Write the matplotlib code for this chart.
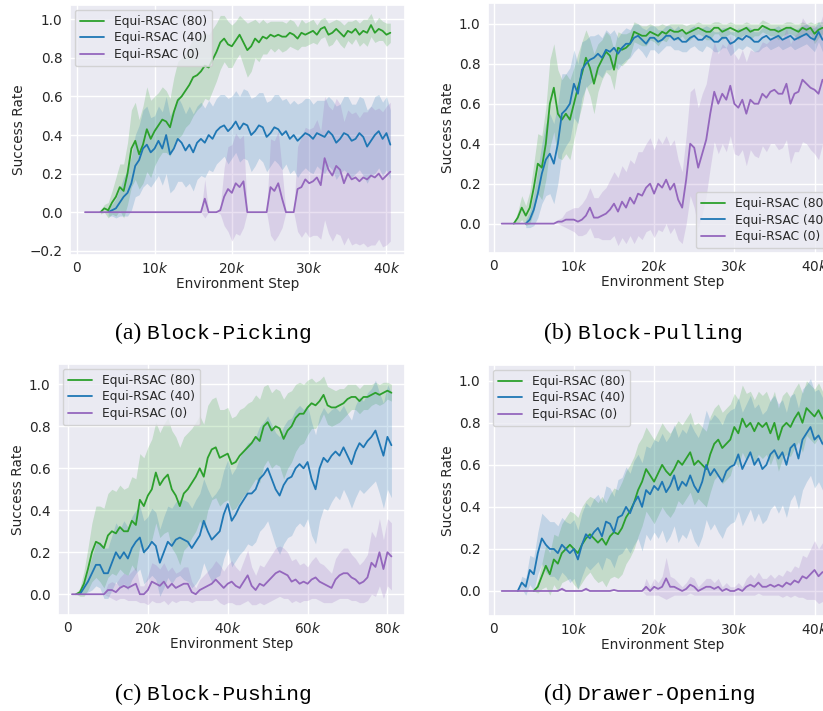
import numpy as np
import matplotlib
matplotlib.use("Agg")
import matplotlib.pyplot as plt
import seaborn as sns
from matplotlib.ticker import FuncFormatter, MultipleLocator

sns.set_theme(style="darkgrid")
plt.rcParams['font.family'] = ['DejaVu Sans']

LABELS = ["Equi-RSAC (80)", "Equi-RSAC (40)", "Equi-RSAC (0)"]
COLORS = ["#2ca02c", "#1f77b4", "#9467bd"]
CAPTIONS = [("(a)", "Block-Picking"), ("(b)", "Block-Pulling"),
            ("(c)", "Block-Pushing"), ("(d)", "Drawer-Opening")]
XLABEL = "Environment Step"
YLABEL = "Success Rate"

# ---------------- (a) Block-Picking : x in thousands, step 0.5k ----------------
a80_start = 3.0
a80_mean = [0.00, 0.02, 0.01, 0.05, 0.08, 0.13, 0.11, 0.20,
            0.33, 0.37, 0.30, 0.35, 0.43, 0.38, 0.42, 0.45,
            0.48, 0.47, 0.44, 0.52, 0.58, 0.60, 0.63, 0.66,
            0.70, 0.71, 0.73, 0.76, 0.75, 0.79, 0.83, 0.88,
            0.90, 0.87, 0.86, 0.89, 0.92, 0.88, 0.84, 0.86,
            0.90, 0.88, 0.91, 0.90, 0.92, 0.91, 0.92, 0.91,
            0.91, 0.93, 0.92, 0.90, 0.93, 0.92, 0.93, 0.94,
            0.92, 0.95, 0.96, 0.92, 0.93, 0.95, 0.93, 0.91,
            0.94, 0.93, 0.95, 0.92, 0.94, 0.93, 0.97, 0.93,
            0.95, 0.94, 0.92, 0.93]
a80_sd = [0.01, 0.02, 0.04, 0.06, 0.10, 0.12, 0.14, 0.16,
          0.20, 0.20, 0.18, 0.20, 0.22, 0.20, 0.18, 0.17,
          0.17, 0.16, 0.15, 0.18, 0.20, 0.20, 0.19, 0.20,
          0.20, 0.18, 0.18, 0.17, 0.17, 0.16, 0.15, 0.14,
          0.12, 0.12, 0.11, 0.10, 0.10, 0.12, 0.14, 0.13,
          0.10, 0.10, 0.09, 0.08, 0.07, 0.08, 0.07, 0.08,
          0.07, 0.07, 0.07, 0.06, 0.07, 0.06, 0.06, 0.06,
          0.05, 0.05, 0.05, 0.06, 0.06, 0.05, 0.06, 0.06,
          0.05, 0.06, 0.05, 0.06, 0.06, 0.07, 0.06, 0.05,
          0.06, 0.05, 0.06, 0.05]
a40_start = 4.0
a40_mean = [0.00, 0.01, 0.02, 0.05, 0.08, 0.10, 0.15, 0.24,
            0.27, 0.33, 0.35, 0.31, 0.33, 0.37, 0.33, 0.40,
            0.30, 0.33, 0.38, 0.36, 0.32, 0.35, 0.31, 0.36,
            0.38, 0.36, 0.40, 0.38, 0.42, 0.44, 0.45, 0.42,
            0.44, 0.47, 0.43, 0.46, 0.45, 0.40, 0.42, 0.45,
            0.44, 0.39, 0.41, 0.44, 0.43, 0.40, 0.42, 0.38,
            0.40, 0.37, 0.39, 0.41, 0.40, 0.38, 0.41, 0.40,
            0.39, 0.42, 0.40, 0.36, 0.38, 0.41, 0.40, 0.37,
            0.38, 0.41, 0.39, 0.34, 0.37, 0.40, 0.42, 0.38,
            0.41, 0.35]
a40_sd = [0.02, 0.03, 0.05, 0.07, 0.10, 0.12, 0.14, 0.16,
          0.18, 0.20, 0.20, 0.18, 0.17, 0.18, 0.19, 0.20,
          0.20, 0.21, 0.22, 0.20, 0.19, 0.20, 0.20, 0.19,
          0.19, 0.18, 0.18, 0.17, 0.17, 0.17, 0.16, 0.17,
          0.16, 0.16, 0.17, 0.18, 0.18, 0.19, 0.18, 0.17,
          0.18, 0.18, 0.17, 0.17, 0.18, 0.18, 0.17, 0.18,
          0.18, 0.19, 0.18, 0.18, 0.19, 0.18, 0.17, 0.18,
          0.19, 0.18, 0.18, 0.19, 0.18, 0.19, 0.20, 0.19,
          0.18, 0.19, 0.20, 0.19, 0.18, 0.20, 0.19, 0.19,
          0.19, 0.18]
a0_start = 1.0
a0_mean = [0.0] * 24 + [
           0.00, 0.00, 0.00, 0.00, 0.00, 0.00, 0.00, 0.07,
           0.00, 0.00, 0.00, 0.01, 0.08, 0.12, 0.10, 0.15,
           0.13, 0.16, 0.00, 0.00, 0.00, 0.00, 0.00, 0.00,
           0.13, 0.11, 0.15, 0.07, 0.00, 0.00, 0.00, 0.12,
           0.13, 0.17, 0.15, 0.16, 0.18, 0.14, 0.28, 0.22,
           0.19, 0.24, 0.22, 0.15, 0.20, 0.17, 0.18, 0.16,
           0.18, 0.17, 0.19, 0.18, 0.20, 0.17, 0.19, 0.21]
a0_sd = [0.0] * 24 + [
         0.00, 0.00, 0.00, 0.00, 0.00, 0.00, 0.00, 0.10,
         0.00, 0.00, 0.00, 0.02, 0.15, 0.22, 0.25, 0.26,
         0.25, 0.24, 0.00, 0.00, 0.00, 0.00, 0.00, 0.00,
         0.25, 0.26, 0.27, 0.15, 0.00, 0.00, 0.00, 0.22,
         0.26, 0.27, 0.28, 0.28, 0.30, 0.28, 0.32, 0.33,
         0.34, 0.35, 0.34, 0.32, 0.33, 0.34, 0.34, 0.33,
         0.34, 0.35, 0.36, 0.35, 0.34, 0.35, 0.36, 0.36]

# ---------------- (b) Block-Pulling : step 0.5k ----------------
b80_start = 2.5
b80_mean = [0.00,
            0.03, 0.08, 0.04, 0.08, 0.18, 0.30, 0.28, 0.40,
            0.60, 0.68, 0.55, 0.52, 0.55, 0.52, 0.60, 0.68,
            0.75, 0.83, 0.78, 0.70, 0.78, 0.82, 0.86, 0.84,
            0.77, 0.88, 0.87, 0.88, 0.90, 0.96, 0.95, 0.94,
            0.94, 0.96, 0.95, 0.94, 0.96, 0.95, 0.97, 0.96,
            0.96, 0.97, 0.95, 0.96, 0.97, 0.98, 0.97, 0.96,
            0.96, 0.98, 0.98, 0.96, 0.97, 0.98, 0.97, 0.96,
            0.97, 0.98, 0.96, 0.97, 0.97, 0.99, 0.98, 0.97,
            0.97, 0.96, 0.97, 0.98, 0.98, 0.97, 0.96, 0.98,
            0.97, 0.98, 0.95, 0.97, 0.98]
b80_sd = [0.00,
          0.03, 0.06, 0.05, 0.08, 0.12, 0.15, 0.16, 0.18,
          0.22, 0.22, 0.22, 0.20, 0.20, 0.20, 0.18, 0.17,
          0.16, 0.14, 0.14, 0.15, 0.12, 0.10, 0.10, 0.10,
          0.10, 0.08, 0.08, 0.07, 0.06, 0.05, 0.05, 0.05,
          0.05, 0.04, 0.04, 0.05, 0.04, 0.04, 0.03, 0.04,
          0.04, 0.03, 0.04, 0.04, 0.03, 0.03, 0.03, 0.04,
          0.04, 0.03, 0.03, 0.04, 0.03, 0.03, 0.03, 0.04,
          0.03, 0.03, 0.04, 0.03, 0.03, 0.03, 0.03, 0.03,
          0.03, 0.04, 0.03, 0.03, 0.03, 0.03, 0.04, 0.03,
          0.03, 0.03, 0.05, 0.04, 0.03]
b40_start = 4.0
b40_mean = [0.00, 0.02, 0.07, 0.15, 0.25, 0.32, 0.35, 0.30,
            0.40, 0.55, 0.57, 0.60, 0.70, 0.65, 0.77, 0.80,
            0.82, 0.83, 0.85, 0.83, 0.87, 0.86, 0.88, 0.85,
            0.88, 0.90, 0.90, 0.93, 0.94, 0.92, 0.90, 0.93,
            0.93, 0.91, 0.92, 0.94, 0.94, 0.92, 0.93, 0.91,
            0.91, 0.93, 0.94, 0.92, 0.92, 0.94, 0.93, 0.91,
            0.91, 0.93, 0.93, 0.90, 0.91, 0.93, 0.92, 0.94,
            0.93, 0.91, 0.91, 0.93, 0.94, 0.92, 0.93, 0.94,
            0.92, 0.93, 0.94, 0.92, 0.93, 0.94, 0.95, 0.93,
            0.92, 0.96, 0.92]
b40_sd = [0.02, 0.04, 0.08, 0.12, 0.15, 0.18, 0.20, 0.20,
          0.20, 0.20, 0.18, 0.18, 0.17, 0.15, 0.14, 0.12,
          0.12, 0.11, 0.10, 0.10, 0.10, 0.09, 0.09, 0.08,
          0.08, 0.08, 0.07, 0.07, 0.06, 0.06, 0.07, 0.06,
          0.06, 0.06, 0.05, 0.05, 0.05, 0.05, 0.06, 0.05,
          0.05, 0.05, 0.05, 0.05, 0.06, 0.05, 0.05, 0.05,
          0.05, 0.05, 0.05, 0.06, 0.05, 0.05, 0.05, 0.05,
          0.05, 0.05, 0.05, 0.05, 0.05, 0.05, 0.05, 0.05,
          0.05, 0.05, 0.05, 0.05, 0.05, 0.05, 0.05, 0.05,
          0.06, 0.05, 0.06]
b0_start = 1.0
b0_mean = [0.0] * 8 + [
           0.00, 0.00, 0.00, 0.00, 0.00, 0.00, 0.01, 0.01,
           0.02, 0.02, 0.02, 0.01, 0.02, 0.04, 0.08, 0.03,
           0.03, 0.04, 0.05, 0.07, 0.10, 0.06, 0.11, 0.08,
           0.13, 0.10, 0.15, 0.14, 0.18, 0.20, 0.15, 0.20,
           0.18, 0.22, 0.17, 0.20, 0.12, 0.08, 0.22, 0.40,
           0.38, 0.28, 0.35, 0.42, 0.55, 0.66, 0.60, 0.65,
           0.62, 0.69, 0.60, 0.58, 0.62, 0.55, 0.62, 0.60,
           0.60, 0.65, 0.63, 0.66, 0.67, 0.65, 0.65, 0.70,
           0.60, 0.65, 0.66, 0.72, 0.70, 0.68, 0.67, 0.65,
           0.72]
b0_sd = [0.0] * 8 + [
         0.00, 0.00, 0.00, 0.00, 0.00, 0.00, 0.01, 0.02,
         0.04, 0.05, 0.06, 0.07, 0.08, 0.09, 0.10, 0.10,
         0.10, 0.12, 0.13, 0.15, 0.16, 0.17, 0.18, 0.18,
         0.19, 0.20, 0.21, 0.22, 0.22, 0.23, 0.22, 0.23,
         0.22, 0.22, 0.22, 0.22, 0.20, 0.18, 0.22, 0.26,
         0.30, 0.30, 0.30, 0.28, 0.27, 0.25, 0.25, 0.25,
         0.26, 0.25, 0.25, 0.24, 0.25, 0.26, 0.25, 0.26,
         0.27, 0.26, 0.27, 0.26, 0.27, 0.28, 0.27, 0.28,
         0.30, 0.29, 0.30, 0.31, 0.30, 0.31, 0.32, 0.33,
         0.32]

# ---------------- (c) Block-Pushing : step 1k ----------------
c80_start = 2.0
c80_mean = [0.00, 0.01, 0.05, 0.12, 0.20, 0.25, 0.24, 0.22,
            0.28, 0.30, 0.29, 0.32, 0.30, 0.30, 0.35, 0.33,
            0.45, 0.42, 0.47, 0.50, 0.58, 0.52, 0.55, 0.57,
            0.50, 0.47, 0.42, 0.48, 0.50, 0.53, 0.56, 0.60,
            0.56, 0.65, 0.69, 0.70, 0.65, 0.66, 0.67, 0.62,
            0.63, 0.66, 0.68, 0.70, 0.72, 0.75, 0.73, 0.80,
            0.82, 0.78, 0.80, 0.79, 0.74, 0.78, 0.80, 0.84,
            0.86, 0.86, 0.89, 0.91, 0.90, 0.92, 0.95, 0.90,
            0.89, 0.89, 0.90, 0.91, 0.93, 0.94, 0.94, 0.92,
            0.94, 0.94, 0.95, 0.96, 0.95, 0.96, 0.97, 0.96]
c80_sd = [0.00, 0.02, 0.06, 0.10, 0.14, 0.17, 0.18, 0.19,
          0.20, 0.20, 0.20, 0.20, 0.20, 0.21, 0.21, 0.22,
          0.22, 0.23, 0.23, 0.24, 0.24, 0.25, 0.26, 0.27,
          0.28, 0.28, 0.28, 0.27, 0.27, 0.26, 0.26, 0.25,
          0.25, 0.25, 0.24, 0.24, 0.23, 0.22, 0.22, 0.22,
          0.22, 0.22, 0.21, 0.21, 0.20, 0.20, 0.20, 0.19,
          0.18, 0.18, 0.18, 0.18, 0.19, 0.18, 0.17, 0.16,
          0.15, 0.14, 0.13, 0.12, 0.11, 0.10, 0.09, 0.09,
          0.09, 0.08, 0.08, 0.07, 0.07, 0.06, 0.06, 0.06,
          0.06, 0.06, 0.05, 0.05, 0.05, 0.05, 0.04, 0.04]
c40_start = 3.0
c40_mean = [0.00, 0.03, 0.06, 0.10, 0.14, 0.14, 0.10, 0.10,
            0.15, 0.20, 0.17, 0.20, 0.17, 0.22, 0.25, 0.27,
            0.20, 0.22, 0.25, 0.23, 0.15, 0.20, 0.25, 0.23,
            0.26, 0.27, 0.26, 0.25, 0.22, 0.25, 0.28, 0.35,
            0.30, 0.26, 0.28, 0.30, 0.38, 0.43, 0.35, 0.38,
            0.42, 0.45, 0.48, 0.48, 0.50, 0.55, 0.57, 0.60,
            0.55, 0.50, 0.47, 0.52, 0.55, 0.56, 0.60, 0.62,
            0.60, 0.63, 0.55, 0.50, 0.60, 0.65, 0.63, 0.66,
            0.68, 0.66, 0.70, 0.66, 0.62, 0.68, 0.72, 0.70,
            0.73, 0.75, 0.78, 0.72, 0.66, 0.75, 0.71]
c40_sd = [0.00, 0.03, 0.05, 0.08, 0.10, 0.11, 0.12, 0.12,
          0.13, 0.14, 0.14, 0.15, 0.15, 0.15, 0.15, 0.15,
          0.15, 0.15, 0.16, 0.16, 0.16, 0.17, 0.17, 0.18,
          0.18, 0.18, 0.19, 0.19, 0.19, 0.20, 0.20, 0.20,
          0.20, 0.20, 0.20, 0.21, 0.21, 0.21, 0.22, 0.22,
          0.23, 0.24, 0.24, 0.25, 0.25, 0.25, 0.25, 0.25,
          0.26, 0.27, 0.28, 0.28, 0.28, 0.28, 0.28, 0.28,
          0.28, 0.27, 0.27, 0.26, 0.25, 0.24, 0.23, 0.22,
          0.21, 0.21, 0.20, 0.20, 0.21, 0.22, 0.22, 0.22,
          0.23, 0.23, 0.24, 0.24, 0.25, 0.25, 0.25]
c0_start = 1.0
c0_mean = [0.0] * 8 + [
           0.00, 0.02, 0.02, 0.01, 0.03, 0.04, 0.03, 0.04,
           0.05, 0.00, 0.00, 0.02, 0.06, 0.05, 0.04, 0.06,
           0.03, 0.05, 0.03, 0.04, 0.05, 0.05, 0.01, 0.00,
           0.02, 0.03, 0.04, 0.05, 0.07, 0.05, 0.03, 0.05,
           0.06, 0.04, 0.03, 0.06, 0.09, 0.04, 0.02, 0.05,
           0.04, 0.06, 0.08, 0.10, 0.11, 0.10, 0.09, 0.06,
           0.07, 0.05, 0.06, 0.05, 0.07, 0.08, 0.06, 0.05,
           0.04, 0.03, 0.07, 0.09, 0.10, 0.10, 0.08, 0.07,
           0.05, 0.06, 0.08, 0.15, 0.13, 0.20, 0.12, 0.20,
           0.18]
c0_sd = [0.0] * 8 + [
         0.00, 0.03, 0.04, 0.04, 0.05, 0.06, 0.06, 0.07,
         0.08, 0.04, 0.04, 0.07, 0.09, 0.09, 0.08, 0.09,
         0.08, 0.08, 0.07, 0.07, 0.08, 0.08, 0.05, 0.03,
         0.05, 0.06, 0.07, 0.08, 0.09, 0.09, 0.08, 0.09,
         0.10, 0.09, 0.08, 0.10, 0.12, 0.09, 0.07, 0.09,
         0.09, 0.10, 0.11, 0.12, 0.12, 0.12, 0.11, 0.10,
         0.10, 0.09, 0.09, 0.08, 0.09, 0.10, 0.09, 0.09,
         0.08, 0.07, 0.10, 0.11, 0.12, 0.12, 0.11, 0.10,
         0.09, 0.10, 0.11, 0.15, 0.14, 0.16, 0.14, 0.16,
         0.16]

# ---------------- (d) Drawer-Opening : step 0.5k ----------------
d80_start = 5.0
d80_mean = [0.00, 0.02, 0.07, 0.12, 0.08, 0.15, 0.13, 0.18,
            0.20, 0.22, 0.20, 0.18, 0.22, 0.25, 0.27, 0.25,
            0.23, 0.25, 0.22, 0.26, 0.28, 0.27, 0.30, 0.35,
            0.38, 0.42, 0.48, 0.52, 0.58, 0.55, 0.52, 0.56,
            0.60, 0.57, 0.55, 0.58, 0.62, 0.60, 0.63, 0.66,
            0.60, 0.62, 0.60, 0.58, 0.65, 0.70, 0.72, 0.68,
            0.70, 0.72, 0.78, 0.75, 0.82, 0.78, 0.80, 0.76,
            0.80, 0.78, 0.80, 0.75, 0.80, 0.72, 0.78, 0.80,
            0.78, 0.82, 0.85, 0.80, 0.87, 0.85, 0.83, 0.86,
            0.82]
d80_sd = [0.00, 0.03, 0.06, 0.10, 0.10, 0.12, 0.13, 0.14,
          0.15, 0.16, 0.17, 0.17, 0.18, 0.18, 0.18, 0.19,
          0.19, 0.20, 0.20, 0.20, 0.21, 0.21, 0.22, 0.22,
          0.22, 0.22, 0.22, 0.21, 0.20, 0.20, 0.20, 0.20,
          0.20, 0.20, 0.20, 0.20, 0.19, 0.19, 0.19, 0.19,
          0.19, 0.18, 0.18, 0.18, 0.18, 0.17, 0.17, 0.17,
          0.17, 0.17, 0.16, 0.16, 0.16, 0.16, 0.15, 0.15,
          0.15, 0.15, 0.15, 0.15, 0.15, 0.15, 0.15, 0.15,
          0.14, 0.14, 0.14, 0.14, 0.13, 0.13, 0.13, 0.13,
          0.13]
d40_start = 3.0
d40_mean = [0.00, 0.04, 0.02, 0.10, 0.08, 0.18, 0.25, 0.22,
            0.20, 0.20, 0.18, 0.22, 0.20, 0.18, 0.20, 0.15,
            0.22, 0.27, 0.25, 0.28, 0.30, 0.26, 0.33, 0.32,
            0.28, 0.35, 0.36, 0.40, 0.37, 0.42, 0.45, 0.40,
            0.48, 0.46, 0.50, 0.48, 0.52, 0.47, 0.50, 0.55,
            0.48, 0.52, 0.50, 0.55, 0.50, 0.47, 0.52, 0.60,
            0.55, 0.58, 0.55, 0.52, 0.57, 0.59, 0.60, 0.65,
            0.58, 0.62, 0.66, 0.60, 0.63, 0.58, 0.60, 0.65,
            0.67, 0.63, 0.66, 0.60, 0.68, 0.70, 0.63, 0.72,
            0.75, 0.78, 0.72, 0.74, 0.70]
d40_sd = [0.00, 0.03, 0.04, 0.07, 0.08, 0.10, 0.12, 0.13,
          0.13, 0.13, 0.13, 0.13, 0.13, 0.14, 0.14, 0.14,
          0.15, 0.15, 0.15, 0.16, 0.16, 0.16, 0.17, 0.17,
          0.17, 0.18, 0.18, 0.19, 0.19, 0.20, 0.20, 0.21,
          0.21, 0.22, 0.22, 0.23, 0.23, 0.24, 0.24, 0.24,
          0.25, 0.25, 0.25, 0.25, 0.26, 0.26, 0.26, 0.26,
          0.26, 0.26, 0.27, 0.27, 0.27, 0.27, 0.27, 0.27,
          0.27, 0.27, 0.27, 0.27, 0.26, 0.26, 0.26, 0.26,
          0.26, 0.26, 0.25, 0.25, 0.25, 0.24, 0.24, 0.24,
          0.23, 0.23, 0.23, 0.22, 0.22]
d0_start = 1.0
d0_mean = [0.0] * 8 + [
           0.00, 0.00, 0.00, 0.00, 0.00, 0.00, 0.00, 0.01,
           0.00, 0.00, 0.00, 0.00, 0.00, 0.01, 0.00, 0.00,
           0.00, 0.00, 0.00, 0.00, 0.005, 0.00, 0.00, 0.00,
           0.00, 0.00, 0.00, 0.00, 0.02, 0.00, 0.02, 0.01,
           0.02, 0.06, 0.02, 0.02, 0.01, 0.00, 0.01, 0.03,
           0.02, 0.00, 0.01, 0.02, 0.02, 0.01, 0.02, 0.00,
           0.01, 0.00, 0.00, 0.01, 0.00, 0.02, 0.03, 0.02,
           0.04, 0.02, 0.02, 0.03, 0.02, 0.03, 0.02, 0.04,
           0.03, 0.05, 0.04, 0.07, 0.06, 0.08, 0.10, 0.07,
           0.09]
d0_sd = [0.0] * 8 + [
         0.00, 0.00, 0.00, 0.00, 0.00, 0.00, 0.00, 0.01,
         0.00, 0.00, 0.00, 0.00, 0.00, 0.01, 0.00, 0.00,
         0.00, 0.00, 0.00, 0.00, 0.00, 0.00, 0.00, 0.00,
         0.00, 0.00, 0.00, 0.00, 0.04, 0.02, 0.04, 0.03,
         0.05, 0.10, 0.05, 0.04, 0.03, 0.02, 0.03, 0.04,
         0.04, 0.02, 0.03, 0.04, 0.04, 0.03, 0.04, 0.02,
         0.03, 0.02, 0.02, 0.03, 0.02, 0.04, 0.05, 0.04,
         0.05, 0.04, 0.04, 0.05, 0.04, 0.05, 0.05, 0.06,
         0.06, 0.07, 0.07, 0.10, 0.10, 0.12, 0.14, 0.13,
         0.14]

PANELS = [
    dict(step=0.5, series=[(a80_start, a80_mean, a80_sd), (a40_start, a40_mean, a40_sd), (a0_start, a0_mean, a0_sd)]),
    dict(step=0.5, series=[(b80_start, b80_mean, b80_sd), (b40_start, b40_mean, b40_sd), (b0_start, b0_mean, b0_sd)]),
    dict(step=1.0, series=[(c80_start, c80_mean, c80_sd), (c40_start, c40_mean, c40_sd), (c0_start, c0_mean, c0_sd)]),
    dict(step=0.5, series=[(d80_start, d80_mean, d80_sd), (d40_start, d40_mean, d40_sd), (d0_start, d0_mean, d0_sd)]),
]

# layout (pixels in an 823 x 711 canvas): left, top, right, bottom
W, H = 823, 711
BOXES = [(70, 5, 405, 255), (488, 3, 838, 253), (58, 364, 405, 615), (488, 365, 838, 616)]
XLIMS = [(-0.94, 42.4), (-0.71, 42.93), (-2.5, 84.4), (-0.71, 42.93)]
YLIMS = [(-0.222, 1.074), (-0.147, 1.104), (-0.099, 1.097), (-0.119, 1.075)]
XTICK_STEP = [10, 10, 20, 10]
LEGEND_LOC = ["upper left", "lower right", "upper left", "upper left"]
CAP_POS = [(210, 333), (641, 333), (210, 694), (641, 694)]

fig = plt.figure(figsize=(W / 100, H / 100), dpi=100)
fs = 9.8
TXT = "#262626"


def kfmt(v, pos):
    if abs(v) < 1e-9:
        return "$0$"
    return "$%dk$" % int(round(v))


for i, panel in enumerate(PANELS):
    l, t, r, b = BOXES[i]
    ax = fig.add_axes([l / W, 1 - b / H, (r - l) / W, (b - t) / H])
    for (start, mean, sd), color, label in zip(panel["series"], COLORS, LABELS):
        m = np.asarray(mean, dtype=float)
        s = np.asarray(sd, dtype=float)
        x = start + panel["step"] * np.arange(len(m))
        ax.plot(x, m, color=color, lw=1.3, label=label)
        ax.fill_between(x, m - s, m + s, color=color, alpha=0.2, lw=0)
    ax.set_xlim(*XLIMS[i])
    ax.set_ylim(*YLIMS[i])
    ax.xaxis.set_major_locator(MultipleLocator(XTICK_STEP[i]))
    ax.xaxis.set_major_formatter(FuncFormatter(kfmt))
    ax.yaxis.set_major_locator(MultipleLocator(0.2))
    ax.yaxis.set_major_formatter(FuncFormatter(lambda v, p: ("%.1f" % v).replace("-", "\u2212")))
    ax.tick_params(axis="x", labelsize=fs, length=0, pad=4, colors=TXT)
    ax.tick_params(axis="y", labelsize=fs, length=0, pad=5.5, colors=TXT)
    ax.set_xlabel(XLABEL, fontsize=fs, labelpad=1.0, color=TXT)
    ax.set_ylabel(YLABEL, fontsize=fs, labelpad=2.5, color=TXT)
    ax.legend(loc=LEGEND_LOC[i], fontsize=8.8, handlelength=2.0, labelspacing=0.3,
              borderpad=0.4, handletextpad=0.8, borderaxespad=0.4)
    cx, cy = CAP_POS[i]
    lab, name = CAPTIONS[i]
    fig.text((cx - 69) / W, 1 - cy / H, lab, ha="right", va="center",
             fontsize=17, family=["Liberation Serif", "DejaVu Serif"], color="black")
    fig.text((cx - 64) / W, 1 - cy / H, name, ha="left", va="center",
             fontsize=15.3, family=["Liberation Mono", "DejaVu Sans Mono"], color="black")

fig.savefig("out.png", dpi=100)
